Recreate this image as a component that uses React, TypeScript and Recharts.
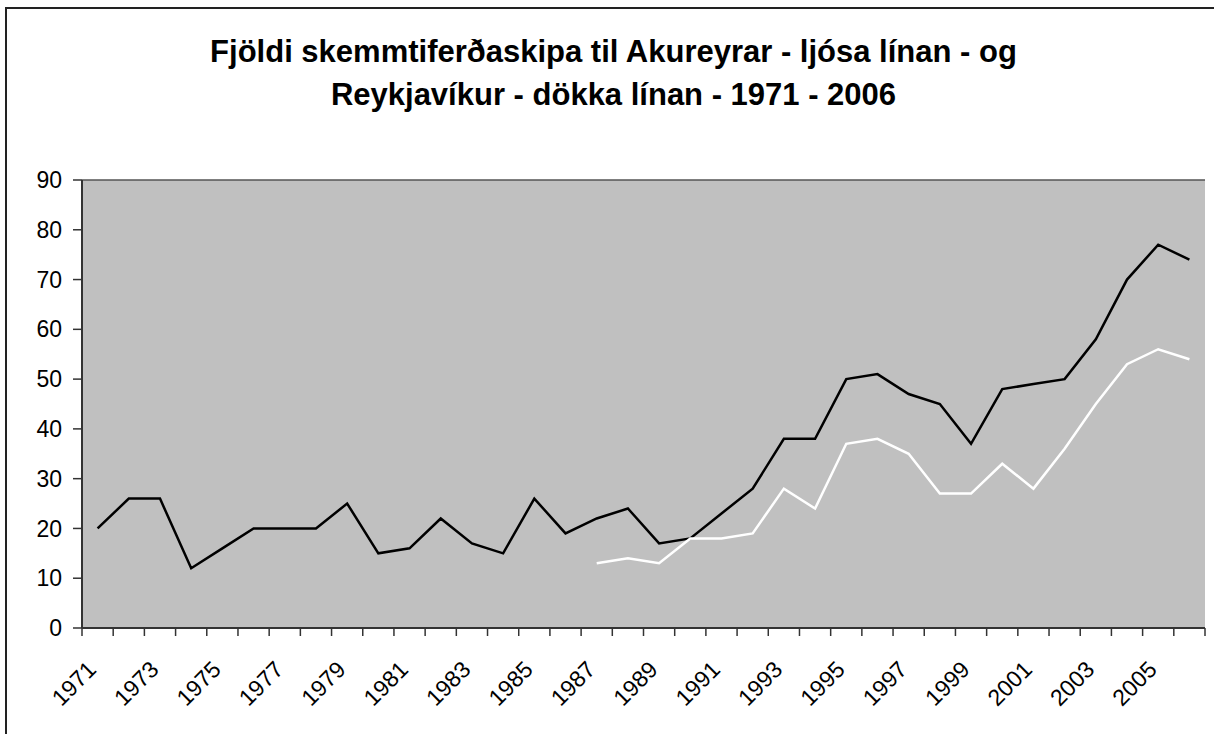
import { LineChart, Line, XAxis, YAxis, CartesianGrid } from 'recharts';

const years = [
  '1971', '1972', '1973', '1974', '1975', '1976', '1977', '1978', '1979', '1980',
  '1981', '1982', '1983', '1984', '1985', '1986', '1987', '1988', '1989', '1990',
  '1991', '1992', '1993', '1994', '1995', '1996', '1997', '1998', '1999', '2000',
  '2001', '2002', '2003', '2004', '2005', '2006',
];

// dökka línan
const reykjavik = [
  20, 26, 26, 12, 16, 20, 20, 20, 25, 15,
  16, 22, 17, 15, 26, 19, 22, 24, 17, 18,
  23, 28, 38, 38, 50, 51, 47, 45, 37, 48,
  49, 50, 58, 70, 77, 74,
];

// ljósa línan (byrjar 1987)
const akureyri: (number | null)[] = [
  null, null, null, null, null, null, null, null, null, null,
  null, null, null, null, null, null, 13, 14, 13, 18,
  18, 19, 28, 24, 37, 38, 35, 27, 27, 33,
  28, 36, 45, 53, 56, 54,
];

const yTicks = [0, 10, 20, 30, 40, 50, 60, 70, 80, 90];

const titleLines = [
  'Fjöldi skemmtiferðaskipa til Akureyrar - ljósa línan - og',
  'Reykjavíkur - dökka línan - 1971 - 2006',
];

const data = years.map((year, i) => ({
  year,
  reykjavik: reykjavik[i],
  akureyri: akureyri[i],
}));

const W = 1214;
const H = 734;
const margin = { top: 180, right: 9, bottom: 46, left: 22 };
const Y_AXIS_W = 60;
const X_AXIS_H = 60;
const PLOT_W = W - margin.left - margin.right - Y_AXIS_W;
const BAND = PLOT_W / years.length;
const FONT = '"Liberation Sans", Arial, sans-serif';

const XTick = (props: any) => {
  const { x, y, payload, index } = props;
  const half = BAND / 2;
  return (
    <g>
      <line x1={x - half} y1={y} x2={x - half} y2={y + 8} stroke="#333" strokeWidth={1.5} />
      {index === years.length - 1 && (
        <line x1={x + half} y1={y} x2={x + half} y2={y + 8} stroke="#333" strokeWidth={1.5} />
      )}
      {index % 2 === 0 && (
        <text
          x={x}
          y={y + 43}
          transform={`rotate(-45 ${x} ${y + 43})`}
          textAnchor="end"
          fontFamily={FONT}
          fontSize={23}
          fill="#000"
        >
          {payload.value}
        </text>
      )}
    </g>
  );
};

const GridLine = (props: any) => {
  const { x1, x2, y1, y2, index } = props;
  const isTop = index === yTicks.length - 1;
  return (
    <line
      x1={x1}
      x2={x2}
      y1={y1}
      y2={y2}
      stroke={isTop ? '#888' : '#555'}
      strokeWidth={1.5}
    />
  );
};

export default function App() {
  return (
    <div
      style={{
        position: 'absolute',
        left: 0,
        top: 0,
        width: W,
        height: H,
        background: '#fff',
        overflow: 'hidden',
      }}
    >
      {/* outer chart border, right/bottom fall outside the picture */}
      <div
        style={{
          position: 'absolute',
          left: 5,
          top: 7,
          width: W + 20,
          height: H + 20,
          borderLeft: '2px solid #222',
          borderTop: '2px solid #222',
        }}
      />

      {/* Title */}
      <div
        style={{
          position: 'absolute',
          left: 5,
          top: 30,
          width: 1217,
          textAlign: 'center',
          fontFamily: FONT,
          fontWeight: 'bold',
          fontSize: 31,
          lineHeight: '43px',
          color: '#000',
        }}
      >
        {titleLines.map((t) => (
          <div key={t}>{t}</div>
        ))}
      </div>

      <div style={{ position: 'absolute', left: 0, top: 0 }}>
        <LineChart width={W} height={H} data={data} margin={margin}>
          <CartesianGrid
            vertical={false}
            horizontal={GridLine}
            fill="#C0C0C0"
            fillOpacity={1}
          />
          <XAxis
            dataKey="year"
            interval={0}
            height={X_AXIS_H}
            padding={{ left: BAND / 2, right: BAND / 2 }}
            tickLine={false}
            tickSize={0}
            tickMargin={0}
            axisLine={{ stroke: '#333', strokeWidth: 2 }}
            tick={<XTick />}
          />
          <YAxis
            yAxisId="left"
            width={Y_AXIS_W}
            domain={[0, 90]}
            ticks={yTicks}
            interval={0}
            tickSize={9}
            tickMargin={11}
            tickLine={{ stroke: '#333', strokeWidth: 1.5 }}
            axisLine={{ stroke: '#333', strokeWidth: 2 }}
            tick={{ fill: '#000', fontSize: 23, fontFamily: FONT }}
          />
          <YAxis
            yAxisId="right"
            orientation="right"
            width={0}
            domain={[0, 90]}
            tick={false}
            tickLine={false}
            axisLine={{ stroke: '#888', strokeWidth: 1.5 }}
          />
          <Line
            yAxisId="left"
            type="linear"
            dataKey="reykjavik"
            stroke="#000"
            strokeWidth={2.5}
            dot={false}
            activeDot={false}
            isAnimationActive={false}
          />
          <Line
            yAxisId="left"
            type="linear"
            dataKey="akureyri"
            stroke="#fff"
            strokeWidth={2.5}
            dot={false}
            activeDot={false}
            connectNulls={false}
            isAnimationActive={false}
          />
        </LineChart>
      </div>
    </div>
  );
}
